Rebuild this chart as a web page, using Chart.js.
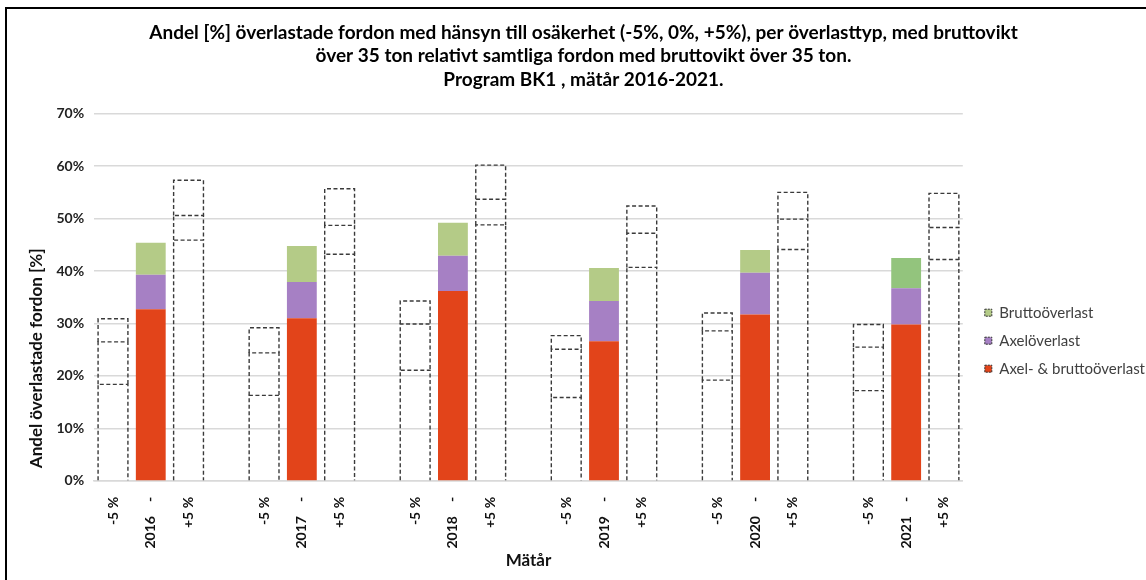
<!DOCTYPE html>
<html>
<head>
<meta charset="utf-8">
<script src="https://cdn.jsdelivr.net/npm/chart.js@4/dist/chart.umd.min.js"></script>
<style>
  html, body { margin: 0; padding: 0; background: #fff; overflow: hidden; }
  #frame { position: absolute; left: 5px; top: 7px; width: 3000px; height: 3000px;
           border-left: 2px solid #000; border-top: 2px solid #000; }
  #c { position: absolute; left: 0; top: 0; }
</style>
</head>
<body>
<div id="frame"></div>
<canvas id="c" width="1146" height="580"></canvas>
<script>
// ---- data (percent) ----
const years = ['2016', '2017', '2018', '2019', '2020', '2021'];
const variants = ['-5 %', '-', '+5 %'];
const seriesNames = ['Axel- & bruttoöverlast', 'Axelöverlast', 'Bruttoöverlast'];

// Axel- & bruttoöverlast (bottom segment)
const axelBruttoMinus5 = [18.4, 16.3, 21.1, 15.9, 19.2, 17.2];
const axelBrutto0      = [32.7, 31.0, 36.2, 26.6, 31.7, 29.8];
const axelBruttoPlus5  = [45.9, 43.2, 48.8, 40.7, 44.1, 42.2];
// Axelöverlast (middle segment)
const axelMinus5 = [8.1, 8.1, 8.8, 9.2, 9.4, 8.3];
const axel0      = [6.6, 6.9, 6.7, 7.7, 8.0, 6.9];
const axelPlus5  = [4.7, 5.5, 4.9, 6.5, 5.8, 6.1];
// Bruttoöverlast (top segment)
const bruttoMinus5 = [4.4, 4.8, 4.4, 2.6, 3.4, 4.3];
const brutto0      = [6.1, 6.9, 6.3, 6.3, 4.3, 5.8];
const bruttoPlus5  = [6.7, 7.0, 6.5, 5.2, 5.1, 6.5];

const yTicks = [0, 10, 20, 30, 40, 50, 60, 70];

// ---- build category table (3 bars per year + a gap slot) ----
const labels = [];
years.forEach((y, i) => {
  labels.push(variants[0], y + '\u2003 ' + variants[1], variants[2]);
  if (i < years.length - 1) labels.push('');
});
function build(m5, z, p5) {
  const out = [];
  years.forEach((y, i) => {
    out.push(m5[i], z[i], p5[i]);
    if (i < years.length - 1) out.push(null);
  });
  return out;
}
const kind = idx => idx % 4; // 0: -5%, 1: measured, 2: +5%, 3: gap

// ---- styles ----
const colRed = '#e2441a', colPurple = '#a680c4', colGreen = '#b4cb87', colGreen2 = '#93c47d';
function fills(base, last) {
  return labels.map((l, idx) => {
    if (kind(idx) !== 1) return 'rgba(0,0,0,0)';
    return (last && idx === labels.length - 2) ? last : base;
  });
}

const dashPlugin = {
  id: 'dashedBars',
  afterLayout(chart) {
    // nudge the legend block a little to the right, as in the original
    const lg = chart.legend;
    if (lg) { lg.left += 9; lg.right += 9; }
  },
  afterDatasetsDraw(chart) {
    const ctx = chart.ctx;
    chart.data.datasets.forEach((ds, di) => {
      const meta = chart.getDatasetMeta(di);
      meta.data.forEach((bar, idx) => {
        const k = kind(idx);
        if ((k !== 0 && k !== 2) || ds.data[idx] == null) return;
        const p = bar.getProps(['x', 'y', 'base', 'width'], true);
        ctx.save();
        ctx.setLineDash([4, 2.5]);
        ctx.strokeStyle = '#3a3a3a';
        ctx.lineWidth = 1.4;
        ctx.beginPath();
        const x0 = p.x - p.width / 2, x1 = p.x + p.width / 2;
        ctx.moveTo(x0, p.base); ctx.lineTo(x0, p.y); ctx.lineTo(x1, p.y); ctx.lineTo(x1, p.base);
        ctx.stroke();
        ctx.restore();
      });
    });
  }
};

const FONT = "Lato, 'Open Sans', sans-serif";

new Chart(document.getElementById('c'), {
  type: 'bar',
  data: {
    labels: labels,
    datasets: [
      { label: seriesNames[0], data: build(axelBruttoMinus5, axelBrutto0, axelBruttoPlus5),
        backgroundColor: fills(colRed), legendColor: colRed },
      { label: seriesNames[1], data: build(axelMinus5, axel0, axelPlus5),
        backgroundColor: fills(colPurple), legendColor: colPurple },
      { label: seriesNames[2], data: build(bruttoMinus5, brutto0, bruttoPlus5),
        backgroundColor: fills(colGreen, colGreen2), legendColor: colGreen }
    ]
  },
  options: {
    responsive: false,
    animation: false,
    devicePixelRatio: 1,
    layout: { padding: { left: 21, right: 0, top: 0, bottom: 15 } },
    datasets: { bar: { barPercentage: 0.79, categoryPercentage: 1.0, borderWidth: 0 } },
    scales: {
      x: {
        stacked: true,
        grid: { display: false },
        border: { display: true, color: '#d9d9d9', width: 1.5 },
        ticks: { autoSkip: false, minRotation: 90, maxRotation: 90, padding: 8,
                 color: '#111', font: { family: FONT, size: 14, weight: 'bold' } },
        title: { display: true, text: 'Mätår', color: '#111', padding: { top: 0, bottom: 0 },
                 font: { family: FONT, size: 17, weight: 'bold', lineHeight: 0.5 } }
      },
      y: {
        stacked: true,
        min: 0, max: 70,
        afterBuildTicks: axis => { axis.ticks = yTicks.map(v => ({ value: v })); },
        grid: { color: '#d9d9d9', lineWidth: 1.5, drawTicks: false },
        border: { display: false },
        ticks: { padding: 10, color: '#222', callback: v => v + '%',
                 font: { family: FONT, size: 14, weight: 'bold' } },
        title: { display: true, align: 'start', text: '\u2003Andel överlastade fordon [%]', color: '#111',
                 padding: { top: 5, bottom: 0 }, font: { family: FONT, size: 17, weight: 'bold' } }
      }
    },
    plugins: {
      title: {
        display: true,
        text: ['Andel [%] överlastade fordon med hänsyn till osäkerhet (-5%, 0%, +5%), per överlasttyp, med bruttovikt',
               'över 35 ton relativt samtliga fordon med bruttovikt över 35 ton.',
               'Program BK1 , mätår 2016-2021.'],
        color: '#000',
        font: { family: FONT, size: 19, weight: 'bold', lineHeight: 1.24 },
        padding: { top: 21, bottom: 22 }
      },
      legend: {
        position: 'right',
        reverse: true,
        title: { display: true, text: '', padding: { top: 0, bottom: 102 } },
        labels: {
          color: '#404040', boxWidth: 7, boxHeight: 7, padding: 13,
          font: { family: FONT, size: 15 },
          generateLabels: chart => chart.data.datasets.map((ds, i) => ({
            text: ds.label, fillStyle: ds.legendColor, strokeStyle: '#333',
            lineWidth: 1, lineDash: [2, 1], hidden: false, datasetIndex: i, fontColor: '#404040'
          }))
        }
      },
      tooltip: { enabled: false }
    }
  },
  plugins: [dashPlugin]
});
</script>
</body>
</html>
